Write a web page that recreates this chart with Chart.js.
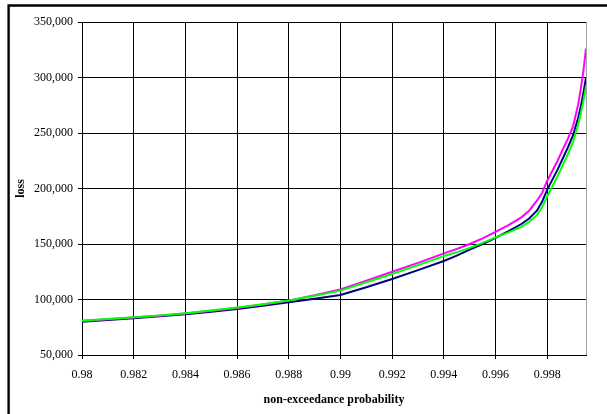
<!DOCTYPE html>
<html>
<head>
<meta charset="utf-8">
<script src="https://cdn.jsdelivr.net/npm/chart.js@4.4.0/dist/chart.umd.min.js"></script>
<style>
  html, body { margin: 0; padding: 0; background: #fff; }
  #wrap { width: 607px; height: 414px; position: relative; }
</style>
</head>
<body>
<div id="wrap"><canvas id="c" width="607" height="414"></canvas></div>
<script>
// Non-exceedance probability (x) for every plotted point
const probability = [
  0.9800, 0.9810, 0.9820, 0.9830, 0.9840, 0.9850, 0.9860, 0.9870, 0.9880, 0.9890,
  0.9900, 0.9910, 0.9920, 0.9930, 0.9940, 0.9945, 0.9950, 0.9955, 0.9960, 0.9965,
  0.9970, 0.9973, 0.9976, 0.9978, 0.9980, 0.9982, 0.9984, 0.9986, 0.9988, 0.9990,
  0.9992, 0.9993, 0.9994, 0.9995
];

// Loss curves
const lossNavy = [
  80000, 81500, 83200, 84900, 86800, 89000, 91500, 94300, 97500, 100600,
  104000, 111000, 118500, 126500, 134700, 139500, 145000, 150000, 155500, 161500,
  168000, 173000, 180000, 188000, 199000, 208000, 217000, 227000, 237000, 248000,
  264000, 274000, 286000, 300000
];
const lossMagenta = [
  80700, 82100, 83700, 85400, 87400, 89800, 92400, 95500, 99000, 103800,
  109000, 117000, 125000, 133000, 141600, 145500, 150000, 155000, 161000, 167000,
  174000, 180000, 189000, 196000, 207000, 216000, 225000, 235000, 245000, 256000,
  276000, 290000, 306000, 326000
];
const lossGreen = [
  81000, 82400, 83900, 85700, 87600, 90000, 92700, 95800, 99200, 103300,
  108000, 115500, 123000, 131000, 139200, 142500, 146500, 151000, 156000, 160500,
  165500, 170000, 176000, 183000, 193000, 202000, 211000, 221000, 231000, 242000,
  258000, 268000, 279000, 292000
];

// Axis ticks
const xTicks = [0.980, 0.982, 0.984, 0.986, 0.988, 0.990, 0.992, 0.994, 0.996, 0.998];
const yTicks = [50000, 100000, 150000, 200000, 250000, 300000, 350000];

const FONT = '"Liberation Serif", "Times New Roman", serif';

function points(values) {
  return probability.map((p, i) => ({ x: p, y: values[i] }));
}

// White background, outer frame and the grey right edge of the plot
const framePlugin = {
  id: 'frame',
  beforeDraw(chart) {
    const ctx = chart.ctx;
    ctx.save();
    ctx.fillStyle = '#fff';
    ctx.fillRect(0, 0, chart.width, chart.height);
    ctx.restore();
  },
  afterDraw(chart) {
    const ctx = chart.ctx;
    const a = chart.chartArea;
    ctx.save();
    ctx.strokeStyle = '#a0a0a0';
    ctx.lineWidth = 1;
    ctx.beginPath();
    ctx.moveTo(Math.round(a.right) + 0.5, a.top);
    ctx.lineTo(Math.round(a.right) + 0.5, a.bottom);
    ctx.stroke();
    ctx.strokeStyle = '#000';
    ctx.lineWidth = 2.4;
    ctx.beginPath();
    ctx.moveTo(8.6, chart.height + 5);
    ctx.lineTo(8.6, 5.5);
    ctx.lineTo(chart.width + 5, 5.5);
    ctx.stroke();
    ctx.restore();
  }
};

new Chart(document.getElementById('c'), {
  type: 'line',
  data: {
    datasets: [
      { data: points(lossGreen), borderColor: '#00ff00', borderWidth: 2 },
      { data: points(lossMagenta), borderColor: '#ff00ff', borderWidth: 2 },
      { data: points(lossNavy), borderColor: '#000080', borderWidth: 2 }
    ]
  },
  options: {
    responsive: false,
    animation: false,
    devicePixelRatio: 1,
    elements: { point: { radius: 0 }, line: { tension: 0 } },
    layout: { padding: { left: 0, top: 22, right: 21, bottom: 0 } },
    plugins: { legend: { display: false }, tooltip: { enabled: false } },
    scales: {
      x: {
        type: 'linear',
        min: 0.98,
        max: 0.9995,
        afterBuildTicks: s => { s.ticks = xTicks.map(v => ({ value: v })); },
        afterFit: s => { s.height = 59; },
        ticks: {
          autoSkip: false,
          maxRotation: 0,
          padding: 9,
          color: '#000',
          font: { family: FONT, size: 12 },
          callback: v => String(Number(v.toFixed(3)))
        },
        grid: { color: '#000', lineWidth: 1, tickLength: 4, drawTicks: true },
        border: { color: '#000', width: 1 },
        title: {
          display: true,
          text: 'non-exceedance probability',
          color: '#000',
          font: { family: FONT, size: 12, weight: 'bold' },
          padding: { top: 0, bottom: 7 }
        }
      },
      y: {
        min: 50000,
        max: 350000,
        afterBuildTicks: s => { s.ticks = yTicks.map(v => ({ value: v })); },
        afterFit: s => { s.width = 82; },
        ticks: {
          padding: 5,
          color: '#000',
          font: { family: FONT, size: 12 },
          callback: v => v.toLocaleString('en-US')
        },
        grid: { color: '#000', lineWidth: 1, tickLength: 4, drawTicks: true },
        border: { color: '#000', width: 1 },
        title: {
          display: true,
          text: 'loss',
          color: '#000',
          font: { family: FONT, size: 12, weight: 'bold' },
          padding: { top: 14, bottom: 0 }
        }
      }
    }
  },
  plugins: [framePlugin]
});
</script>
</body>
</html>
